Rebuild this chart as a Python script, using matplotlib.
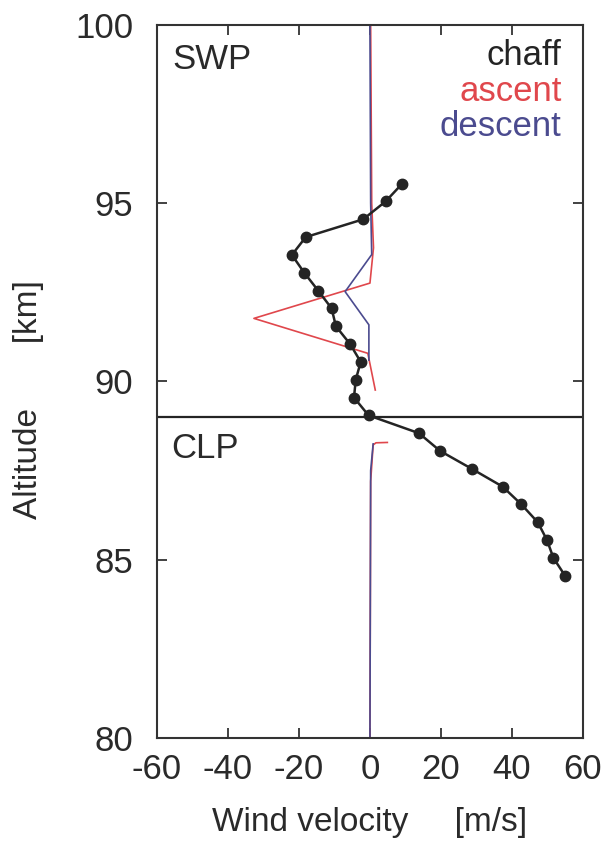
import matplotlib.pyplot as plt

plt.rcParams["font.family"] = ["Liberation Sans", "DejaVu Sans"]
plt.rcParams["axes.unicode_minus"] = False

# Chaff wind profile (altitude in km, wind in m/s)
chaff_alt = [95.55, 95.05, 94.55, 94.05, 93.55, 93.05, 92.55, 92.05, 91.55, 91.05,
             90.55, 90.05, 89.55, 89.05, 88.55, 88.05, 87.55, 87.05, 86.55, 86.05,
             85.55, 85.05, 84.55]
chaff_wind = [9.1, 4.4, -1.9, -18.1, -22.0, -18.5, -14.6, -10.8, -9.6, -5.6,
              -2.6, -4.0, -4.5, -0.4, 13.8, 19.8, 28.7, 37.4, 42.7, 47.3,
              49.9, 51.7, 55.0]

# SWP rocket profiles
swp_ascent_alt = [100.0, 95.0, 93.75, 92.76, 91.77, 90.79, 89.76]
swp_ascent_wind = [0.2, 0.5, 1.0, 0.0, -32.7, -0.6, 1.5]
swp_descent_alt = [100.0, 95.0, 93.56, 92.52, 91.59, 90.6]
swp_descent_wind = [0.0, 0.2, 0.5, -7.0, -0.3, -0.3]

# CLP rocket profiles
clp_ascent_alt = [88.29, 88.28, 88.22, 87.2, 80.0]
clp_ascent_wind = [4.9, 1.7, 0.9, 0.2, 0.0]
clp_descent_alt = [88.25, 87.5, 80.0]
clp_descent_wind = [0.9, 0.2, 0.0]

boundary_alt = 89.0

red = "#e0474c"
blue = "#4b4b8f"
dark = "#242424"
text_col = "#2a2a2a"

fig = plt.figure(figsize=(6.04, 8.47), dpi=100)
ax = fig.add_axes([0.26, 0.1287, 0.705, 0.8418])

ax.plot(swp_ascent_wind, swp_ascent_alt, color=red, lw=1.2)
ax.plot(clp_ascent_wind, clp_ascent_alt, color=red, lw=1.2)
ax.plot(swp_descent_wind, swp_descent_alt, color=blue, lw=1.2)
ax.plot(clp_descent_wind, clp_descent_alt, color=blue, lw=1.2)
ax.plot(chaff_wind, chaff_alt, color=dark, lw=1.8, marker="o", ms=7.5)
ax.axhline(boundary_alt, color=dark, lw=1.6)

ax.set_xlim(-60, 60)
ax.set_ylim(80, 100)
ax.set_xticks([-60, -40, -20, 0, 20, 40, 60])
ax.set_yticks([80, 85, 90, 95, 100])

for side in ax.spines.values():
    side.set_color("#333333")
    side.set_linewidth(1.5)
ax.tick_params(direction="in", length=7, width=1.3, color="#333333",
               top=True, right=True, labelsize=25, labelcolor=text_col)
ax.tick_params(axis="x", pad=11)
ax.tick_params(axis="y", pad=17)

ax.set_xlabel("Wind velocity     [m/s]", fontsize=24, color=text_col)
ax.set_ylabel("Altitude       [km]", fontsize=24, color=text_col)
ax.xaxis.set_label_coords(0.498, -0.097)
ax.yaxis.set_label_coords(-0.265, 0.474)

ax.text(0.035, 0.975, "SWP", transform=ax.transAxes, fontsize=25,
        color=text_col, ha="left", va="top")
ax.text(0.033, 0.4285, "CLP", transform=ax.transAxes, fontsize=25,
        color=text_col, ha="left", va="top")

for label, col, y in [("chaff", dark, 0.944), ("ascent", red, 0.894), ("descent", blue, 0.845)]:
    ax.text(0.95, y, label, transform=ax.transAxes, fontsize=25,
            color=col, ha="right", va="baseline")

fig.savefig("out.png", dpi=100, facecolor="white")
